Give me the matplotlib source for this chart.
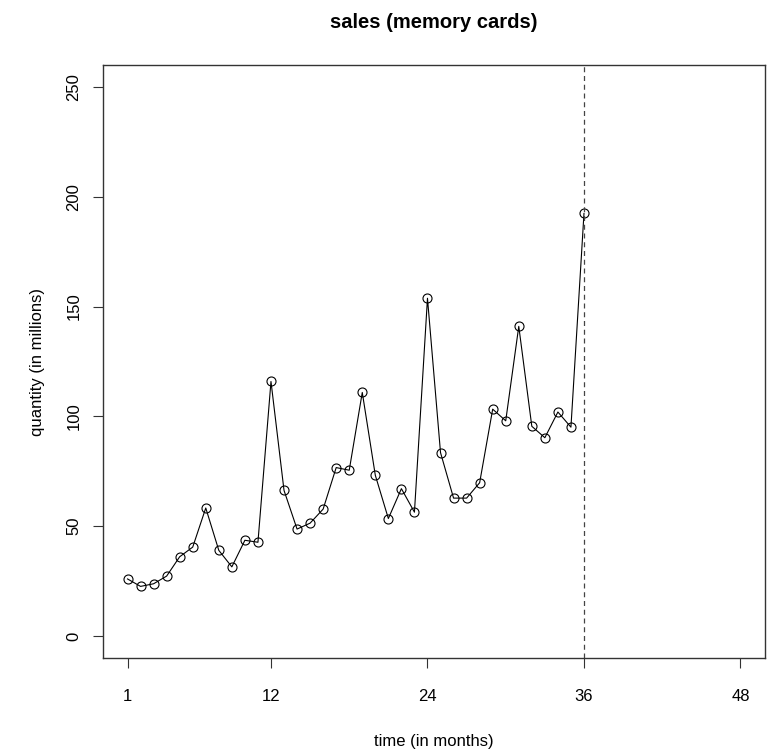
import numpy as np
import matplotlib
matplotlib.use('Agg')
from matplotlib import pyplot as plt

# monthly sales of memory cards (in millions), months 1..36
months = np.arange(1, 37)
sales = [26.0, 22.6, 23.8, 27.3, 36.1, 40.5, 58.3, 39.0, 31.5, 43.6,
         42.7, 115.9, 66.3, 48.7, 51.4, 57.8, 76.7, 75.5, 110.9, 73.2,
         53.5, 67.1, 56.4, 153.8, 83.5, 62.8, 62.8, 69.8, 103.3, 98.0,
         141.0, 95.5, 90.3, 102.0, 95.1, 192.4]
x_ticks = [1, 12, 24, 36, 48]
y_ticks = [0, 50, 100, 150, 200, 250]
forecast_start = 36

plt.rcParams['font.family'] = ['Liberation Sans', 'DejaVu Sans']

fig = plt.figure(figsize=(7.67, 7.54), dpi=100)
ax = fig.add_axes([103 / 767, 1 - 658 / 754, (765 - 103) / 767, (658 - 65) / 754])

ax.plot(months, sales, color='black', lw=0.8, marker='o', markersize=6.5,
        markerfacecolor='none', markeredgecolor='black', markeredgewidth=0.8)
ax.axvline(forecast_start, color='#444444', lw=0.9, linestyle=(0, (4, 3)))

# R style axis range: 4% padding on both sides
ax.set_xlim(1 - 0.04 * 47, 48 + 0.04 * 47)
ax.set_ylim(0 - 0.04 * 250, 250 + 0.04 * 250)
ax.set_xticks(x_ticks)
ax.set_yticks(y_ticks)
ax.set_yticklabels([str(v) for v in y_ticks], rotation=90, va='center')
ax.tick_params(axis='both', direction='out', length=7.2, width=0.8,
               labelsize=12, color='#333333')
ax.tick_params(axis='x', pad=15)
ax.tick_params(axis='y', pad=8.4)
for sp in ax.spines.values():
    sp.set_color('#333333')
    sp.set_linewidth(1.0)

ax.set_title('sales (memory cards)', fontsize=14.5, fontweight='bold', pad=27)
ax.set_xlabel('time (in months)', fontsize=12, labelpad=21.5)
ax.set_ylabel('quantity (in millions)', fontsize=12, labelpad=15)

fig.savefig('out.png', dpi=100)
